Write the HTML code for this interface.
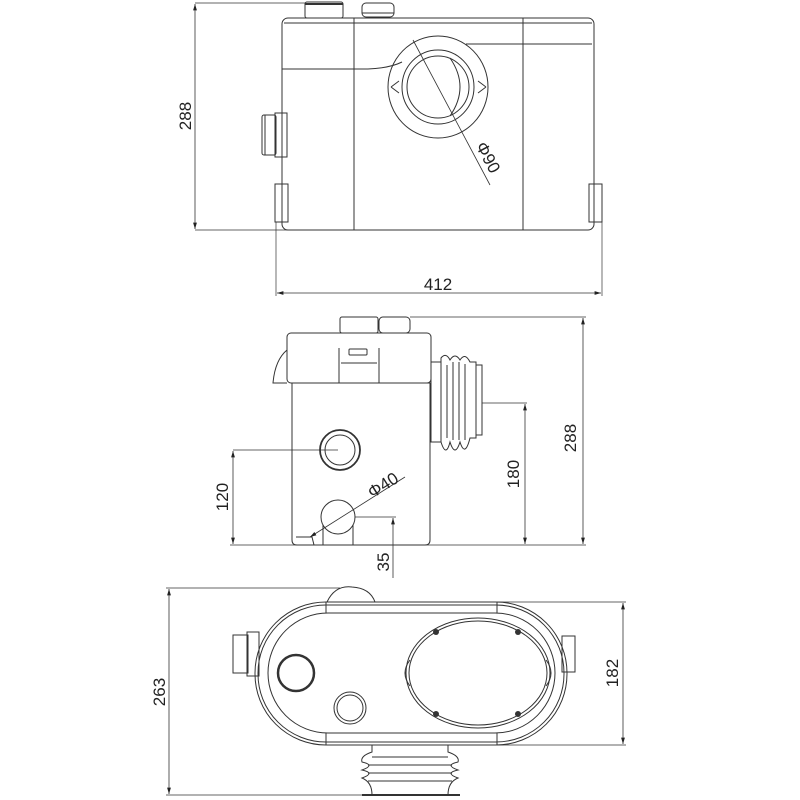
<!DOCTYPE html>
<html><head><meta charset="utf-8"><style>body{margin:0;background:#fff}svg{display:block}text{font-family:"Liberation Sans",sans-serif;fill:#222}</style></head><body>
<svg width="800" height="800" viewBox="0 0 800 800" xmlns="http://www.w3.org/2000/svg">
<defs><marker id="a" viewBox="0 0 10 10" refX="10" refY="5" markerWidth="8" markerHeight="8" orient="auto-start-reverse"><path d="M0,2 L10,5 L0,8 z" fill="#222"/></marker></defs>
<g fill="none" stroke="#333" stroke-width="1">
<!-- VIEW 1 -->
<line x1="195" y1="3" x2="305" y2="3" stroke-width=".7"/>
<line x1="195" y1="230" x2="290" y2="230" stroke-width=".7"/>
<line x1="195" y1="4" x2="195" y2="229" marker-start="url(#a)" marker-end="url(#a)" stroke-width=".8"/>
<rect x="282" y="18" width="312" height="212" rx="6"/>
<line x1="284" y1="23" x2="592" y2="23"/>
<line x1="354" y1="18" x2="354" y2="230"/>
<line x1="523" y1="18" x2="523" y2="230"/>
<rect x="305" y="2" width="38" height="16" rx="2"/>
<line x1="305" y1="4" x2="343" y2="4" stroke-width="2"/>
<rect x="362" y="3" width="32" height="14" rx="4"/>
<line x1="362" y1="13" x2="394" y2="13"/>
<rect x="275" y="184" width="13" height="38"/>
<rect x="589" y="184" width="13" height="38"/>
<rect x="262" y="115" width="14" height="40" rx="2"/>
<rect x="275" y="113" width="12" height="44"/>
<line x1="265" y1="115" x2="265" y2="155"/>
<path d="M282 69 L368 69 Q390 68 402 62"/>
<line x1="466" y1="44" x2="592" y2="44"/>
<ellipse cx="438" cy="87" rx="50" ry="51"/>
<ellipse cx="438" cy="87" rx="36" ry="37"/>
<ellipse cx="438" cy="87" rx="31" ry="31"/>
<path d="M450 58 Q470 87 450 116"/>
<path d="M391 87 l8 -6 M391 87 l8 6 M486 87 l-8 -6 M486 87 l-8 6"/>
<line x1="413" y1="40" x2="490" y2="185" stroke-width=".8"/>
<line x1="276" y1="222" x2="276" y2="296" stroke-width=".7"/>
<line x1="602" y1="222" x2="602" y2="296" stroke-width=".7"/>
<line x1="277" y1="293" x2="601" y2="293" marker-start="url(#a)" marker-end="url(#a)" stroke-width=".8"/>
<!-- VIEW 2 -->
<path d="M292 383 L430 383 L430 540 Q430 545 425 545 L297 545 Q292 545 292 540 Z"/>
<rect x="287" y="333" width="144" height="50" rx="4"/>
<path d="M287 350 Q275 360 273 383 L287 383"/>
<rect x="340" y="317" width="38" height="16" rx="2"/>
<rect x="379" y="317" width="31" height="16" rx="4"/>
<path d="M339 348 L339 383 M379 348 L379 383 M341 363 L377 363"/>
<rect x="349" y="349" width="18" height="6" rx="1"/>
<rect x="431" y="362" width="10" height="80"/>
<path d="M441 358 Q446 352 450 360 Q455 352 460 360 Q465 352 470 362 L476 362 L476 438 L470 438 Q465 458 460 442 Q455 458 450 442 Q446 458 441 442 Z"/>
<path d="M447 365 L447 438 M453 362 L453 440 M459 362 L459 440 M465 364 L465 440"/>
<rect x="476" y="365" width="6" height="70"/>
<line x1="410" y1="317" x2="586" y2="317" stroke-width=".7"/>
<line x1="583" y1="318" x2="583" y2="544" marker-start="url(#a)" marker-end="url(#a)" stroke-width=".8"/>
<line x1="482" y1="403" x2="527" y2="403" stroke-width=".7"/>
<line x1="525" y1="404" x2="525" y2="544" marker-start="url(#a)" marker-end="url(#a)" stroke-width=".8"/>
<line x1="233" y1="450" x2="338" y2="450" stroke-width=".7"/>
<line x1="233" y1="451" x2="233" y2="544" marker-start="url(#a)" marker-end="url(#a)" stroke-width=".8"/>
<line x1="230" y1="545" x2="586" y2="545" stroke-width=".7"/>
<circle cx="340" cy="450" r="20" stroke-width="1.8"/>
<circle cx="340" cy="450" r="15"/>
<circle cx="338" cy="517" r="17"/>
<path d="M323 525 L323 545 M353 525 L353 545"/>
<path d="M296 537 L312 537 L314 545"/>
<line x1="310" y1="537" x2="405" y2="477" stroke-width=".8" marker-start="url(#a)"/>
<line x1="355" y1="517" x2="396" y2="517" stroke-width=".7"/>
<line x1="393" y1="518" x2="393" y2="578" marker-start="url(#a)" stroke-width=".8"/>
<!-- VIEW 3 -->
<rect x="255" y="602" width="312" height="143" rx="71"/>
<rect x="258" y="605" width="306" height="137" rx="68"/>
<rect x="268" y="613" width="287" height="120" rx="60"/>
<path d="M326 602 L326 613 M326 733 L326 745 M497 602 L497 613 M497 733 L497 745"/>
<path d="M327 602 Q335 585 352 587 Q370 588 375 602"/>
<rect x="233" y="635" width="15" height="38"/>
<rect x="247" y="632" width="12" height="44"/>
<rect x="562" y="636" width="13" height="36"/>
<circle cx="296" cy="673" r="18" stroke-width="2.5"/>
<circle cx="350" cy="708" r="16"/>
<circle cx="350" cy="708" r="13"/>
<ellipse cx="478" cy="673" rx="72" ry="55"/>
<ellipse cx="478" cy="673" rx="69" ry="52"/>
<path d="M410 660 Q400 673 410 686 M546 660 Q556 673 546 686"/>
<path d="M372 745 L372 752 Q360 756 362 762 Q376 765 362 770 Q376 773 362 778 Q372 782 372 795 L448 795 Q448 782 458 778 Q444 773 458 770 Q444 765 458 762 Q460 756 448 752 L448 745"/>
<path d="M372 757 L448 757 M368 765 L452 765 M368 773 L452 773 M368 781 L452 781"/>
<line x1="362" y1="795" x2="460" y2="795" stroke-width="2"/>
<line x1="166" y1="588" x2="340" y2="588" stroke-width=".7"/>
<line x1="166" y1="795" x2="370" y2="795" stroke-width=".7"/>
<line x1="169" y1="589" x2="169" y2="794" marker-start="url(#a)" marker-end="url(#a)" stroke-width=".8"/>
<line x1="497" y1="602" x2="626" y2="602" stroke-width=".7"/>
<line x1="497" y1="745" x2="626" y2="745" stroke-width=".7"/>
<line x1="623" y1="603" x2="623" y2="744" marker-start="url(#a)" marker-end="url(#a)" stroke-width=".8"/>
</g>
<g fill="#333">
<circle cx="436" cy="632" r="3"/><circle cx="518" cy="632" r="3"/><circle cx="436" cy="714" r="3"/><circle cx="518" cy="714" r="3"/>
</g>
<g font-size="17">
<text transform="translate(191,116) rotate(-90)" text-anchor="middle">288</text>
<text transform="translate(487,158) rotate(62)" text-anchor="middle" dominant-baseline="middle">Φ90</text>
<text x="438" y="290" text-anchor="middle">412</text>
<text transform="translate(576,438) rotate(-90)" text-anchor="middle">288</text>
<text transform="translate(519,474) rotate(-90)" text-anchor="middle">180</text>
<text transform="translate(228,497) rotate(-90)" text-anchor="middle">120</text>
<text transform="translate(386,490) rotate(-32)" text-anchor="middle">Φ40</text>
<text transform="translate(389,562) rotate(-90)" text-anchor="middle">35</text>
<text transform="translate(165,692) rotate(-90)" text-anchor="middle">263</text>
<text transform="translate(618,673) rotate(-90)" text-anchor="middle">182</text>
</g>
</svg>
</body></html>
